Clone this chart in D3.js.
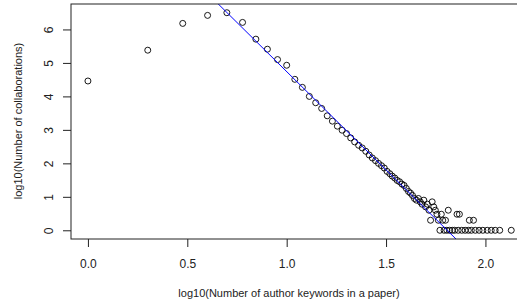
<!DOCTYPE html>
<html><head><meta charset="utf-8">
<script src="https://cdn.jsdelivr.net/npm/d3@7"></script>
<style>html,body{margin:0;padding:0;background:#fff;}svg{display:block;}</style>
</head><body>
<svg id="chart" width="517" height="304"></svg>
<script>
// log10(number of author keywords in a paper)
const xValues = [0, 0.301, 0.477, 0.602, 0.699, 0.778, 0.845, 0.903, 0.954, 1.000,
  1.041, 1.079, 1.114, 1.146, 1.176, 1.204, 1.230, 1.255, 1.279, 1.301,
  1.322, 1.342, 1.362, 1.380, 1.398, 1.415, 1.431, 1.447, 1.462, 1.477,
  1.491, 1.505, 1.519, 1.531, 1.544, 1.556, 1.568, 1.580, 1.591, 1.602,
  1.613, 1.623, 1.633, 1.643, 1.653, 1.663, 1.672, 1.681, 1.690, 1.699,
  1.708, 1.716, 1.724, 1.732, 1.740, 1.748, 1.756, 1.763, 1.771, 1.778,
  1.785, 1.792, 1.799, 1.806, 1.813, 1.820, 1.833, 1.845, 1.857, 1.863,
  1.869, 1.881, 1.898, 1.914, 1.919, 1.929, 1.940, 1.949, 1.968, 1.987,
  2.009, 2.029, 2.049, 2.072, 2.130];
// log10(number of collaborations)
const yValues = [4.46, 5.38, 6.18, 6.42, 6.50, 6.21, 5.71, 5.41, 5.10, 4.93,
  4.51, 4.27, 4.00, 3.81, 3.64, 3.42, 3.26, 3.11, 2.99, 2.89,
  2.76, 2.64, 2.54, 2.46, 2.36, 2.25, 2.16, 2.08, 2.00, 1.93,
  1.86, 1.76, 1.69, 1.62, 1.56, 1.49, 1.45, 1.38, 1.34, 1.25,
  1.16, 1.11, 1.04, 0.95, 0.90, 0.95, 0.85, 0.78, 0.90, 0.70,
  0.78, 0.60, 0.30, 0.85, 0.70, 0.60, 0.48, 0.30, 0.00, 0.48,
  0.30, 0.00, 0.30, 0.00, 0.60, 0.00, 0.00, 0.00, 0.48, 0.00,
  0.48, 0.00, 0.00, 0.00, 0.30, 0.00, 0.30, 0.00, 0.00, 0.00,
  0.00, 0.00, 0.00, 0.00, 0.00];
const xTicks = [0, 0.5, 1.0, 1.5, 2.0];
const yTicks = [0, 1, 2, 3, 4, 5, 6];
const fitIntercept = 10.61;
const fitSlope = -5.87;
const xTitle = "log10(Number of author keywords in a paper)";
const yTitle = "log10(Number of collaborations)";

const svg = d3.select("#chart");
const x = d3.scaleLinear().domain([-0.0852, 2.2142]).range([71, 528]);
const y = d3.scaleLinear().domain([-0.26, 6.76]).range([239, 4]);
const font = "'Liberation Sans', Arial, Helvetica, sans-serif";

svg.append("defs").append("clipPath").attr("id", "clip")
  .append("rect").attr("x", 71).attr("y", 4).attr("width", 457).attr("height", 235);

// points
const pts = xValues.map((v, i) => ({x: v, y: yValues[i]}));
svg.append("g").selectAll("circle").data(pts).join("circle")
  .attr("cx", d => x(d.x)).attr("cy", d => y(d.y)).attr("r", 3)
  .attr("fill", "none").attr("stroke", "#000").attr("stroke-width", 0.9);

// fitted line
const xd = x.domain();
svg.append("line").attr("clip-path", "url(#clip)")
  .attr("x1", x(xd[0])).attr("y1", y(fitIntercept + fitSlope * xd[0]))
  .attr("x2", x(xd[1])).attr("y2", y(fitIntercept + fitSlope * xd[1]))
  .attr("stroke", "#0000ff").attr("stroke-width", 1);

// box
svg.append("rect").attr("x", 71).attr("y", 4).attr("width", 457).attr("height", 235)
  .attr("fill", "none").attr("stroke", "#222").attr("stroke-width", 1);

// x axis
const gx = svg.append("g").attr("transform", "translate(0,239)")
  .call(d3.axisBottom(x).tickValues(xTicks).tickFormat(d3.format(".1f")).tickSize(8).tickPadding(12));
gx.select(".domain").remove();
gx.selectAll("line").attr("stroke", "#222");
gx.selectAll("text").attr("font-family", font).attr("font-size", 12).attr("fill", "#222");

// y axis
const gy = svg.append("g").attr("transform", "translate(71,0)")
  .call(d3.axisLeft(y).tickValues(yTicks).tickFormat(d3.format("d")).tickSize(8));
gy.select(".domain").remove();
gy.selectAll("line").attr("stroke", "#222");
gy.selectAll("text").attr("font-family", font).attr("font-size", 12).attr("fill", "#222")
  .attr("x", null).attr("dy", null)
  .attr("text-anchor", "middle")
  .attr("transform", "translate(-22,0) rotate(-90)")
  .attr("dy", "0.35em");

// titles
svg.append("text").attr("x", 289).attr("y", 297).attr("text-anchor", "middle")
  .attr("font-family", font).attr("font-size", 11).attr("fill", "#222").text(xTitle);
svg.append("text").attr("transform", "translate(18,121) rotate(-90)").attr("text-anchor", "middle")
  .attr("dy", "0.35em")
  .attr("font-family", font).attr("font-size", 11).attr("fill", "#222").text(yTitle);
</script>
</body></html>
